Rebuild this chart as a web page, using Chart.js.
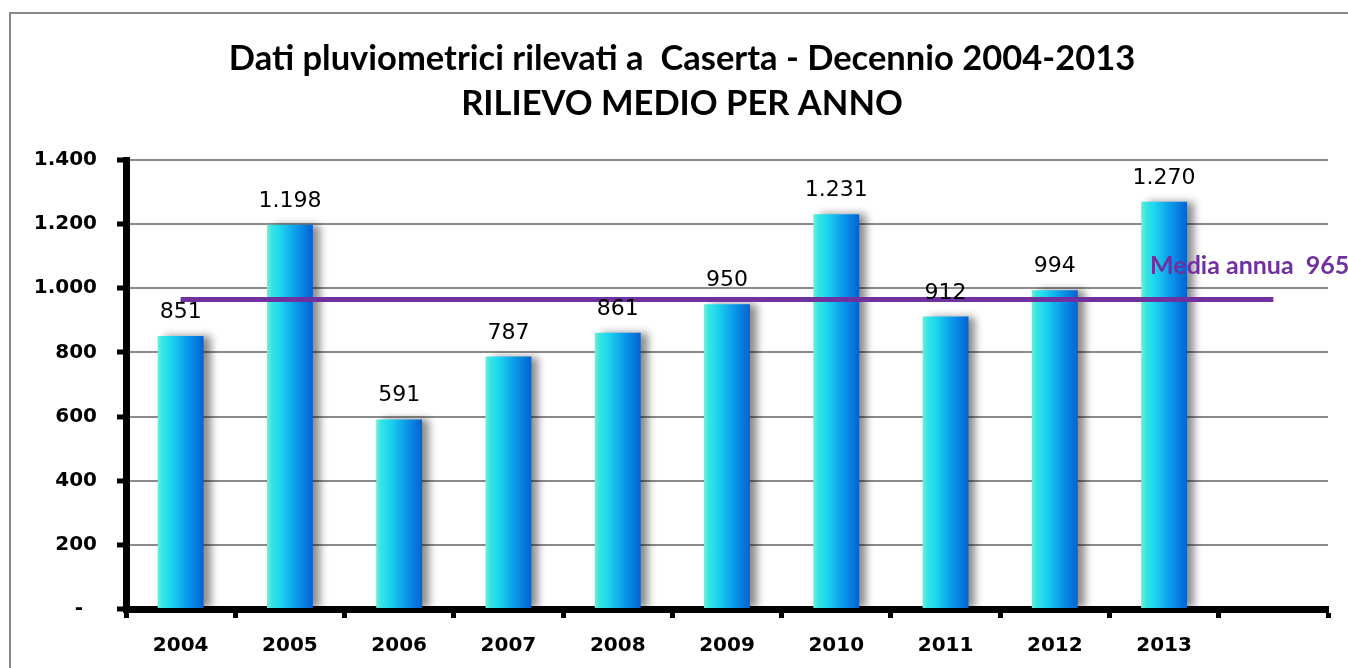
<!DOCTYPE html>
<html><head><meta charset="utf-8">
<script src="https://cdn.jsdelivr.net/npm/chart.js@4.4.1/dist/chart.umd.min.js"></script>
<style>
html,body{margin:0;padding:0;background:#fff;width:1348px;height:668px;overflow:hidden}
#frame{position:absolute;left:9px;top:12px;width:1400px;height:700px;border:2px solid #8a8a8a;box-sizing:border-box}
canvas{position:absolute;left:0;top:0}
</style></head><body>
<div id="frame"></div>
<canvas id="c" width="1348" height="668"></canvas>
<script>
const titleLines = ['Dati pluviometrici rilevati a  Caserta - Decennio 2004-2013', 'RILIEVO MEDIO PER ANNO'];
const years = ['2004','2005','2006','2007','2008','2009','2010','2011','2012','2013',''];
const rainfall = [851, 1198, 591, 787, 861, 950, 1231, 912, 994, 1270];
const annualMean = [965, 965, 965, 965, 965, 965, 965, 965, 965, 965, 965];
const meanLabel = 'Media annua  965';
const yMin = 0, yMax = 1400, yStep = 200;

function fmt(v){
  if (v === 0) return '-  ';
  return String(v).replace(/\B(?=(\d{3})+(?!\d))/g, '.');
}

const barGradient = (ctx) => {
  const chart = ctx.chart;
  const xs = chart.scales && chart.scales.x;
  if (!chart.chartArea || !xs || ctx.type !== 'data') return '#1aa8ec';
  const cx = xs.getPixelForValue(ctx.dataIndex);
  const w = (xs.width / years.length) * 0.42;
  const g = chart.ctx.createLinearGradient(cx - w/2, 0, cx + w/2, 0);
  g.addColorStop(0, '#74ecd6');
  g.addColorStop(0.1, '#36e6e4');
  g.addColorStop(0.3, '#1cd4ee');
  g.addColorStop(0.65, '#0a98ea');
  g.addColorStop(1, '#0262d2');
  return g;
};

const shadowPlugin = {
  id: 'barShadow',
  beforeDatasetDraw(chart, args){
    if (args.index !== 1) return;
    const c = chart.ctx; c.save();
    c.shadowColor = 'rgba(0,0,0,0.45)';
    c.shadowBlur = 8;
    c.shadowOffsetX = 7;
    c.shadowOffsetY = 0;
  },
  afterDatasetDraw(chart, args){
    if (args.index !== 1) return;
    chart.ctx.restore();
  }
};

const labelPlugin = {
  id: 'valueLabels',
  afterDatasetsDraw(chart){
    const c = chart.ctx;
    const meta = chart.getDatasetMeta(1);
    c.save();
    c.font = '22px "DejaVu Sans"';
    c.fillStyle = '#000';
    c.textAlign = 'center';
    c.textBaseline = 'alphabetic';
    meta.data.forEach((bar, i) => {
      c.fillText(fmt(rainfall[i]), bar.x, bar.y - 18);
    });
    const xs = chart.scales.x, ys = chart.scales.y;
    c.font = 'bold 25px Lato';
    c.fillStyle = '#7030a0';
    c.textAlign = 'left';
    c.fillText(meanLabel, xs.getPixelForValue(9) - 14, ys.getPixelForValue(annualMean[10]) - 26);
    c.restore();
  }
};

new Chart(document.getElementById('c'), {
  data: {
    labels: years,
    datasets: [
      {
        type: 'line',
        label: 'Media annua',
        data: annualMean,
        borderColor: '#7030a0',
        borderWidth: 5,
        pointRadius: 0,
        fill: false,
        order: 0
      },
      {
        type: 'bar',
        label: 'Rilievo',
        data: rainfall,
        backgroundColor: barGradient,
        borderWidth: 0,
        categoryPercentage: 0.42,
        barPercentage: 1,
        order: 1
      }
    ]
  },
  options: {
    responsive: false,
    animation: false,
    layout: { padding: { left: 36, right: 20, top: 0, bottom: 0 } },
    plugins: {
      legend: { display: false },
      tooltip: { enabled: false },
      title: {
        display: true,
        text: titleLines,
        color: '#000',
        font: { family: 'Lato', size: 34.5, weight: 'bold', lineHeight: 45/34.5 },
        padding: { top: 36.5, bottom: 33.5 }
      }
    },
    scales: {
      x: {
        grid: { display: true, drawOnChartArea: false, drawTicks: true, tickLength: 9, tickWidth: 5, tickColor: '#000', offset: true },
        border: { display: true, color: '#000', width: 7 },
        ticks: { color: '#000', font: { family: 'DejaVu Sans', size: 20, weight: 'bold' }, padding: 16, maxRotation: 0, autoSkip: false },
        afterFit(s){ s.height = 59; }
      },
      y: {
        min: yMin, max: yMax,
        ticks: { stepSize: yStep, callback: (v) => fmt(v), color: '#000', font: { family: 'DejaVu Sans', size: 20, weight: 'bold' }, padding: 20 },
        grid: { color: '#8a8a8a', lineWidth: 2, tickColor: '#000', tickWidth: 5, tickLength: 9 },
        border: { color: '#000', width: 7 },
        afterFit(s){ s.width = 90; }
      }
    }
  },
  plugins: [shadowPlugin, labelPlugin]
});
</script>
</body></html>
